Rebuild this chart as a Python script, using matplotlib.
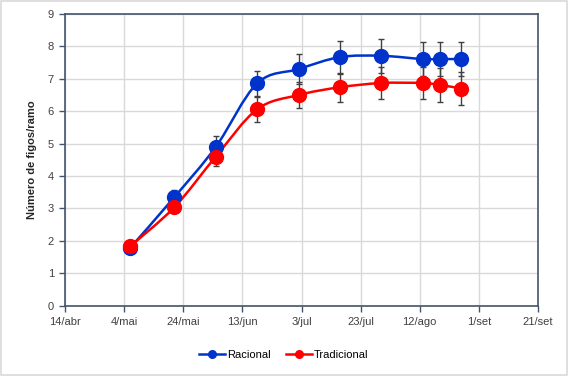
import numpy as np
import matplotlib
matplotlib.use("Agg")
import matplotlib.pyplot as plt
import matplotlib.dates as mdates
from matplotlib.path import Path
from matplotlib.patches import PathPatch, Rectangle
from matplotlib.lines import Line2D
from datetime import date

# dados
datas = [date(2023, 5, 6), date(2023, 5, 21), date(2023, 6, 4), date(2023, 6, 18),
         date(2023, 7, 2), date(2023, 7, 16), date(2023, 7, 30), date(2023, 8, 13),
         date(2023, 8, 19), date(2023, 8, 26)]
racional = [1.78, 3.35, 4.90, 6.86, 7.30, 7.67, 7.71, 7.61, 7.61, 7.61]
racional_err = [0.05, 0.22, 0.34, 0.38, 0.47, 0.51, 0.52, 0.53, 0.53, 0.53]
tradicional = [1.83, 3.04, 4.60, 6.06, 6.50, 6.74, 6.87, 6.87, 6.81, 6.70]
tradicional_err = [0.05, 0.08, 0.28, 0.39, 0.39, 0.45, 0.50, 0.50, 0.52, 0.51]

tick_datas = [date(2023, 4, 14), date(2023, 5, 4), date(2023, 5, 24), date(2023, 6, 13),
              date(2023, 7, 3), date(2023, 7, 23), date(2023, 8, 12), date(2023, 9, 1),
              date(2023, 9, 21)]
tick_labels = ['14/abr', '4/mai', '24/mai', '13/jun', '3/jul', '23/jul', '12/ago', '1/set', '21/set']

plt.rcParams['font.family'] = ['Liberation Sans', 'DejaVu Sans']

fig = plt.figure(figsize=(5.68, 3.76), dpi=100)
ax = fig.add_axes([65 / 568, 1 - 305.7 / 376, (538 - 65) / 568, (305.7 - 14) / 376])

# moldura do gráfico
fig.patches.append(Rectangle((0.002, 0.003), 0.996, 0.994, transform=fig.transFigure,
                             fill=False, edgecolor='#D9D9D9', linewidth=1.2))


def smooth_path(x, y, t=1 / 6):
    # curva suavizada tipo Excel (Bezier cúbica)
    pts = np.column_stack([x, y])
    n = len(pts)
    verts = [pts[0]]
    codes = [Path.MOVETO]
    for i in range(n - 1):
        p0 = pts[i - 1] if i > 0 else pts[i]
        p1 = pts[i]
        p2 = pts[i + 1]
        p3 = pts[i + 2] if i + 2 < n else pts[i + 1]
        c1 = p1 + (p2 - p0) * t
        c2 = p2 - (p3 - p1) * t
        verts += [c1, c2, p2]
        codes += [Path.CURVE4] * 3
    return Path(verts, codes)


series = [(racional, racional_err, '#0033CC', 'Racional'),
          (tradicional, tradicional_err, '#FF0000', 'Tradicional')]

xnum = mdates.date2num(datas)
for vals, err, cor, nome in series:
    ax.add_patch(PathPatch(smooth_path(xnum, vals), fill=False, edgecolor=cor,
                           linewidth=1.8, zorder=3))
for vals, err, cor, nome in series:
    ax.errorbar(xnum, vals, yerr=err, fmt='none', ecolor='#404040', elinewidth=1,
                capsize=2.5, capthick=1, zorder=4)
for vals, err, cor, nome in series:
    ax.plot(xnum, vals, 'o', color=cor, markersize=10, zorder=5)

ax.set_xlim(mdates.date2num(tick_datas[0]), mdates.date2num(tick_datas[-1]))
ax.set_ylim(0, 9)
ax.set_xticks(mdates.date2num(tick_datas))
ax.set_xticklabels(tick_labels)
ax.set_yticks(range(10))
ax.tick_params(labelsize=8, labelcolor='#404040', length=4, width=1, pad=4, color='#44546A')
ax.grid(True, color='#D9D9D9', linewidth=1)
ax.set_axisbelow(True)
for s in ax.spines.values():
    s.set_color('#44546A')
    s.set_linewidth(1.2)

ax.set_ylabel('Número de figos/ramo', fontsize=8, fontweight='bold', color='#262626', labelpad=8)

handles = [Line2D([], [], color=c, marker='o', markersize=5.5, linewidth=1.8) for _, _, c, _ in series]
fig.legend(handles, [s[3] for s in series], loc='center', bbox_to_anchor=(0.5, 1 - 355 / 376),
           ncol=2, frameon=False, fontsize=8, handlelength=2.3, columnspacing=1.4, handletextpad=0.2)

fig.savefig('out.png', dpi=100)
